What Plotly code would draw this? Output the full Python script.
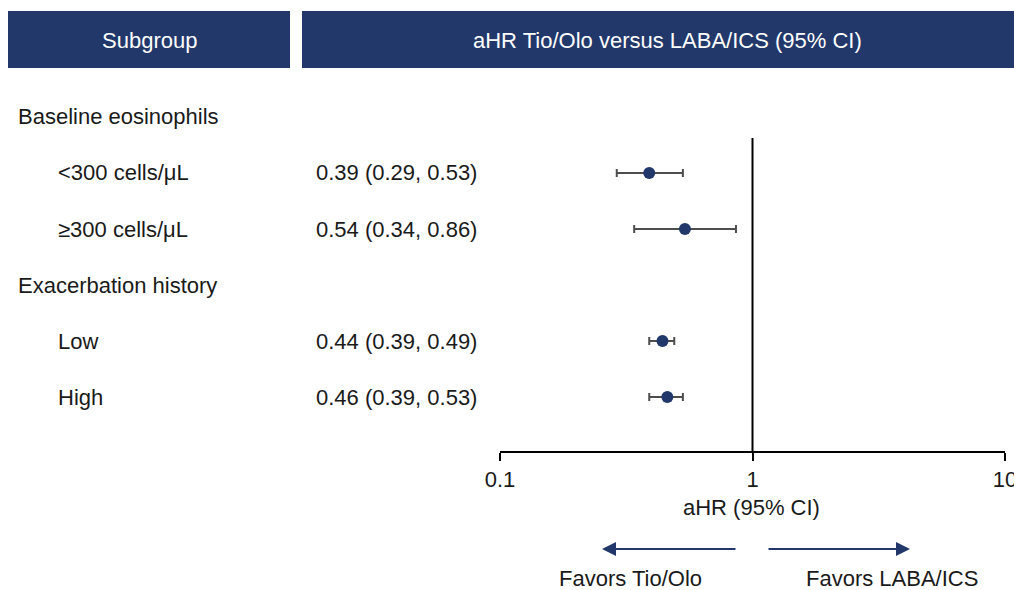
import plotly.graph_objects as go

# ---- data ----
row_labels = ["Baseline eosinophils", "<300 cells/μL", "≥300 cells/μL",
              "Exacerbation history", "Low", "High"]
row_is_header = [True, False, False, True, False, False]
estimates = [None, 0.39, 0.54, None, 0.44, 0.46]
ci_low = [None, 0.29, 0.34, None, 0.39, 0.39]
ci_high = [None, 0.53, 0.86, None, 0.49, 0.53]
tick_vals = [0.1, 1, 10]
tick_text = ["0.1", "1", "10"]

# ---- layout constants ----
W, H = 1014, 590
NAVY = "#22386A"
TXT = "#1a1a1a"
FONT = "Liberation Sans, Arial, sans-serif"
FS = 22
row_y0, row_step = 117, 56
axis_y = 451

def px(x):
    return x / W

def py(y):
    return 1 - y / H

ys = [row_y0 + i * row_step for i in range(len(row_labels))]

fig = go.Figure()

# points with CI
pts = [(e, l, h, y) for e, l, h, y in zip(estimates, ci_low, ci_high, ys) if e is not None]
fig.add_trace(go.Scatter(
    x=[p[0] for p in pts],
    y=[p[3] for p in pts],
    mode="markers",
    marker=dict(color=NAVY, size=12),
    error_x=dict(type="data", symmetric=False,
                 array=[p[2] - p[0] for p in pts],
                 arrayminus=[p[0] - p[1] for p in pts],
                 color="#4d4d4d", thickness=2, width=4),
    showlegend=False, hoverinfo="skip",
))

shapes = []
annotations = []

def text(t, x, y, anchor="center", color=TXT):
    annotations.append(dict(text=t, xref="paper", yref="paper", x=px(x), y=py(y),
                            xanchor=anchor, yanchor="middle", showarrow=False,
                            font=dict(color=color, size=FS, family=FONT)))

# header boxes
shapes.append(dict(type="rect", xref="paper", yref="paper",
                   x0=px(8), x1=px(290), y0=py(68), y1=py(11),
                   fillcolor=NAVY, line=dict(width=0), layer="below"))
shapes.append(dict(type="rect", xref="paper", yref="paper",
                   x0=px(302), x1=px(1016), y0=py(68), y1=py(11),
                   fillcolor=NAVY, line=dict(width=0), layer="below"))
text("Subgroup", 149, 40, color="white")
text("aHR Tio/Olo versus LABA/ICS (95% CI)", 667, 40, color="white")

# row labels and values
for lab, hdr, e, l, h, y in zip(row_labels, row_is_header, estimates, ci_low, ci_high, ys):
    text(lab, 16 if hdr else 56, y, anchor="left")
    if e is not None:
        text(f"{e:.2f} ({l:.2f}, {h:.2f})", 314, y, anchor="left")

# reference line at HR = 1
shapes.append(dict(type="line", xref="x", yref="paper", x0=1, x1=1,
                   y0=py(axis_y), y1=py(138), line=dict(color="black", width=2)))

# axis title
text("aHR (95% CI)", 751, 507)

# favour arrows
annotations.append(dict(text="", xref="paper", yref="paper", x=px(602), y=py(549),
                        ax=135, ay=0, showarrow=True, arrowhead=2, arrowsize=1.4,
                        arrowwidth=2, arrowcolor=NAVY, standoff=0))
annotations.append(dict(text="", xref="paper", yref="paper", x=px(910), y=py(549),
                        ax=-143, ay=0, showarrow=True, arrowhead=2, arrowsize=1.4,
                        arrowwidth=2, arrowcolor=NAVY, standoff=0))
text("Favors Tio/Olo", 630, 578)
text("Favors LABA/ICS", 892, 578)

fig.update_layout(
    width=W, height=H,
    margin=dict(l=0, r=0, t=0, b=0),
    paper_bgcolor="white", plot_bgcolor="white",
    shapes=shapes, annotations=annotations,
    xaxis=dict(type="log", range=[-1, 1], domain=[px(500), px(1005)],
               tickvals=tick_vals, ticktext=tick_text,
               showgrid=False, zeroline=False,
               showline=True, linecolor="black", linewidth=2,
               ticks="outside", ticklen=8, tickwidth=2, tickcolor="black",
               tickfont=dict(color=TXT, size=FS, family=FONT),
               ticklabeloverflow="allow", ticklabelstandoff=0,
               automargin=False),
    yaxis=dict(range=[axis_y, 0], domain=[py(axis_y), 1],
               visible=False, showgrid=False, zeroline=False, automargin=False),
)

fig.write_html("out.html", config={"displayModeBar": False},
               post_script="document.body.style.margin='0';document.body.style.overflow='hidden';")
